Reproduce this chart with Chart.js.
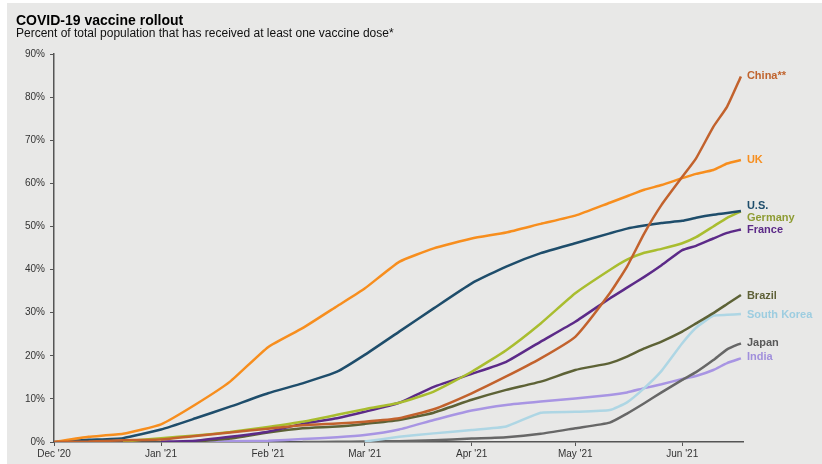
<!DOCTYPE html>
<html>
<head>
<meta charset="utf-8">
<title>COVID-19 vaccine rollout</title>
<script src="https://cdn.jsdelivr.net/npm/chart.js@4.4.1/dist/chart.umd.min.js"></script>
<style>
  html, body { margin: 0; padding: 0; background: #fff; }
  #page { position: absolute; left: 7px; top: 3px; width: 815px; height: 461px; background: #e8e8e7; }
  #wrap { position: absolute; left: 0; top: 0; width: 822px; height: 464px; }
  .title { position: absolute; left: 16px; top: 12px; line-height: 16px; font: bold 14px "Liberation Sans", Arial, sans-serif; color: #000; white-space: nowrap; }
  .subtitle { position: absolute; left: 16px; top: 26px; line-height: 14px; font: 12px "Liberation Sans", Arial, sans-serif; color: #111; white-space: nowrap; }
</style>
</head>
<body>
<div id="page"></div>
<div id="wrap"><canvas id="vaccineChart" width="822" height="464"></canvas></div>
<div class="title">COVID-19 vaccine rollout</div>
<div class="subtitle">Percent of total population that has received at least one vaccine dose*</div>

<script>
// days since 1 Dec 2020
let days = [0, 10, 20, 31, 41, 51, 62, 72, 82, 90, 100, 110, 121, 131, 141, 151, 161, 166, 171, 176, 182, 186, 191, 195, 199];

// month ticks
let monthDays = [0, 31, 62, 90, 121, 151, 182];
let monthLabels = ["Dec '20", "Jan '21", "Feb '21", "Mar '21", "Apr '21", "May '21", "Jun '21"];

// % of population with at least one dose
let china = [0, 0.1, 0.4, 0.6, 1.4, 2.2, 3.1, 3.9, 4.3, 4.7, 5.5, 7.6, 11.3, 15.2, 19.4, 24.4, 34.5, 40.7, 48.4, 55, 61.5, 65.8, 73.1, 77.8, 84.8];
let uk = [0, 1.2, 1.9, 4.1, 8.7, 14, 22, 26.4, 31.5, 35.6, 41.8, 44.9, 47.2, 48.6, 50.6, 52.5, 55.5, 57, 58.5, 59.6, 61.2, 62.2, 63.1, 64.6, 65.4];
let us = [0, 0.5, 0.9, 2.9, 5.5, 8.2, 11.3, 13.6, 16.3, 20.2, 25.6, 31, 36.8, 40.7, 43.8, 46.1, 48.4, 49.5, 50.2, 50.8, 51.3, 52, 52.7, 53.1, 53.6];
let germany = [null, null, 0.1, 0.9, 1.5, 2.3, 3.5, 4.7, 6.3, 7.6, 9.1, 11.7, 16.3, 21.3, 27.5, 34.5, 39.9, 42.3, 43.9, 44.8, 46.1, 47.5, 50, 52, 53.5];
let france = [null, null, null, 0.05, 0.3, 1.2, 2.4, 4.2, 5.5, 7.0, 9.1, 12.8, 15.8, 18.6, 23.3, 27.9, 33.3, 35.8, 38.3, 41, 44.5, 45.5, 47.2, 48.5, 49.3];
let brazil = [null, null, null, null, 0.1, 0.8, 2.2, 3.2, 3.6, 4.2, 5.1, 6.8, 9.8, 12.1, 14, 16.7, 18.3, 19.8, 21.7, 23.3, 25.6, 27.5, 29.9, 32, 34.1];
let southKorea = [null, null, null, null, null, null, null, null, null, 0.1, 1.2, 2.0, 2.8, 3.6, 6.8, 7.0, 7.4, 9.2, 12.5, 16.5, 22.9, 26.5, 29.3, 29.5, 29.7];
let japan = [null, null, null, null, null, null, null, 0, 0.05, 0.1, 0.2, 0.4, 0.8, 1.1, 1.9, 3.2, 4.5, 6.6, 9.0, 11.5, 14.4, 16.2, 19, 21.5, 22.9];
let india = [null, null, null, null, 0.05, 0.15, 0.3, 0.7, 1.1, 1.6, 2.9, 5.1, 7.3, 8.6, 9.4, 10.1, 10.9, 11.5, 12.5, 13.4, 14.6, 15.3, 16.7, 18.3, 19.4];

let names = ["China**", "UK", "U.S.", "Germany", "France", "Brazil", "South Korea", "Japan", "India"];
let series = [china, uk, us, germany, france, brazil, southKorea, japan, india];

let lineColors = ["#c2622d", "#f78e1e", "#1e4d6b", "#a9bd2f", "#5c2a88", "#5d6236", "#aed6e4", "#676767", "#a895e3"];
let textColors = ["#c0642e", "#f78e1e", "#1e4d6b", "#8e9c34", "#5c2a88", "#5f6138", "#9dcde0", "#595959", "#a08fdc"];
let labelShift = [0, 0, -5, 7, 1, 1, 1, 0, -1]; // nudge end labels apart

const FONT = '"Liberation Sans", Arial, sans-serif';

const datasets = series.map((values, i) => ({
  label: names[i],
  data: days.map((d, j) => ({ x: d, y: values[j] })),
  borderColor: lineColors[i],
  borderWidth: 2.5,
  pointRadius: 0,
  tension: 0.15,
  fill: false,
}));

// write the country name next to the end of each line
const endLabels = {
  id: "endLabels",
  afterDatasetsDraw(chart) {
    const ctx = chart.ctx;
    ctx.save();
    ctx.font = "bold 11px " + FONT;
    ctx.textBaseline = "middle";
    chart.data.datasets.forEach((ds, i) => {
      const pts = chart.getDatasetMeta(i).data;
      const last = pts[pts.length - 1];
      ctx.fillStyle = textColors[i];
      ctx.fillText(ds.label, last.x + 6, last.y + labelShift[i]);
    });
    ctx.restore();
  },
};

const axisGrid = { drawOnChartArea: false, drawTicks: true, tickLength: 4, color: "#555", lineWidth: 1 };
const axisBorder = { color: "#555", width: 1.5 };

new Chart(document.getElementById("vaccineChart"), {
  type: "line",
  data: { datasets: datasets },
  plugins: [endLabels],
  options: {
    responsive: false,
    animation: false,
    layout: { padding: { left: 0, right: 79, top: 54, bottom: 0 } },
    plugins: { legend: { display: false }, tooltip: { enabled: false } },
    scales: {
      x: {
        type: "linear",
        min: 0,
        max: 199.6,
        grid: axisGrid,
        border: axisBorder,
        afterBuildTicks: (s) => { s.ticks = monthDays.map((v) => ({ value: v })); },
        ticks: {
          autoSkip: false,
          maxRotation: 0,
          padding: 2,
          color: "#333",
          font: { family: FONT, size: 10 },
          callback: (v, i) => monthLabels[i],
        },
        afterFit: (s) => { s.height = 22; s.paddingLeft = 0; s.paddingRight = 0; },
      },
      y: {
        min: 0,
        max: 90,
        grid: axisGrid,
        border: axisBorder,
        ticks: {
          stepSize: 10,
          padding: 5,
          color: "#333",
          font: { family: FONT, size: 10 },
          callback: (v) => v + "%",
        },
        afterFit: (s) => { s.width = 54; s.paddingTop = 0; s.paddingBottom = 0; },
      },
    },
  },
});
</script>
</body>
</html>
